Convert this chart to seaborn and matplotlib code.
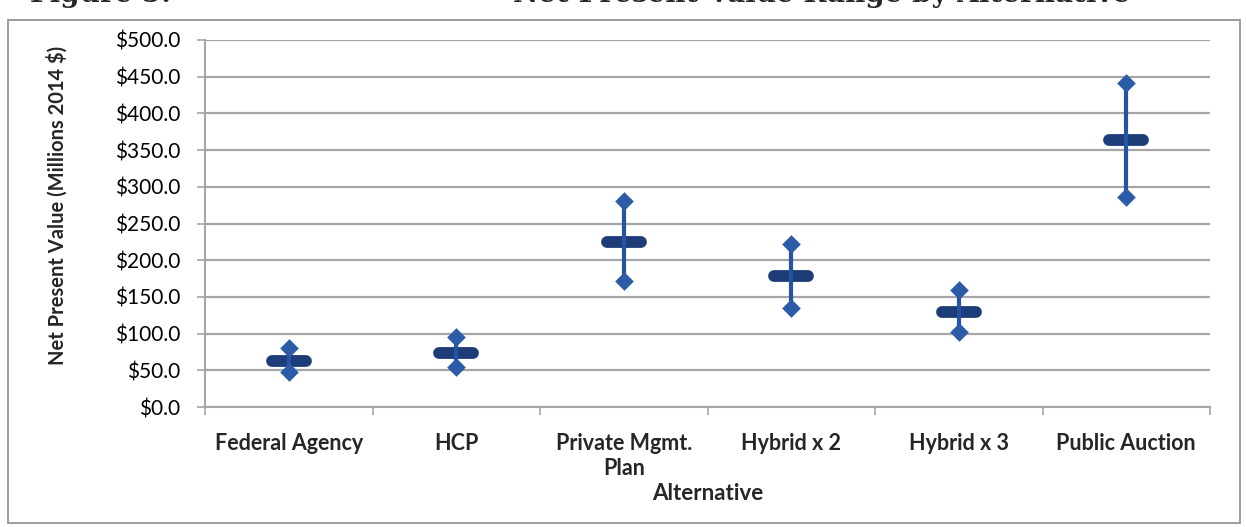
import matplotlib
matplotlib.use('Agg')
import matplotlib.pyplot as plt
import matplotlib.ticker as ticker
from matplotlib.patches import Rectangle
from matplotlib.markers import MarkerStyle
import pandas as pd
import seaborn as sns
import numpy as np

# values (millions 2014 $)
alternatives = ['Federal Agency', 'HCP', 'Private Mgmt.\nPlan',
                'Hybrid x 2', 'Hybrid x 3', 'Public Auction']
npv_low = [48, 55, 171, 135, 102, 286]
npv_mean = [63, 74, 225, 178, 129, 364]
npv_high = [80, 95, 280, 222, 160, 442]

W, H = 1246, 527

sns.set_theme(style='white')
plt.rcParams['font.family'] = ['Lato', 'DejaVu Sans']

fig = plt.figure(figsize=(W / 100, H / 100), dpi=100)
ax = fig.add_axes([205 / W, 1 - 407 / H, (1210 - 205) / W, (407 - 40) / H])

# low/mean/high rows -> median gives the mean, 100% interval gives low..high
range_df = pd.DataFrame({'alt': alternatives * 3,
                         'value': npv_low + npv_mean + npv_high})
ends_df = pd.DataFrame({'alt': alternatives * 2,
                        'value': npv_low + npv_high})

dash = MarkerStyle('_', capstyle='round')
sns.pointplot(data=range_df, x='alt', y='value', order=alternatives,
              estimator='median', errorbar=('pi', 100), capsize=0,
              linestyle='none', markers=dash, markersize=25, markeredgewidth=8.5,
              color='#1d3d78', err_kws={'color': '#2653a3', 'linewidth': 3, 'zorder': 6},
              ax=ax)
sns.stripplot(data=ends_df, x='alt', y='value', order=alternatives,
              jitter=False, marker='D', size=9.5, color='#2c5ba8', linewidth=0,
              zorder=7, ax=ax)

ax.set_xlim(-0.5, len(alternatives) - 0.5)
ax.set_ylim(0, 500)
ax.yaxis.set_major_locator(ticker.MultipleLocator(50))
ax.yaxis.set_major_formatter(ticker.FuncFormatter(lambda v, p: '${:.1f}'.format(v)))

grid_c = '#a6a6a6'
ax.yaxis.grid(True, color=grid_c, linewidth=1.6)
ax.xaxis.grid(False)
ax.set_axisbelow(True)
for s in ['top', 'right']:
    ax.spines[s].set_visible(False)
for s in ['left', 'bottom']:
    ax.spines[s].set_color(grid_c)
    ax.spines[s].set_linewidth(1.5)

ax.set_xticks(np.arange(-0.5, len(alternatives), 1), minor=True)
ax.tick_params(axis='y', left=True, length=6, width=1.2, color=grid_c,
               direction='out', pad=12, labelsize=15, labelcolor='black')
ax.tick_params(axis='x', which='major', bottom=True, length=0, pad=19,
               labelsize=15.5)
ax.tick_params(axis='x', which='minor', bottom=True, length=6, width=1.2,
               color=grid_c, direction='out')
for lbl in ax.get_xticklabels():
    lbl.set_fontweight('bold')
    lbl.set_linespacing(1.2)

ax.set_xlabel('Alternative', fontsize=16, fontweight='bold', labelpad=3)
ax.set_ylabel('Net Present Value (Millions 2014 $)', fontsize=14.5,
              fontweight='bold')
ax.yaxis.set_label_coords(-0.137, 0.55)

# chart box border like the Excel frame
fig.patches.append(Rectangle((8 / W, 1 - 523 / H), (1240 - 8) / W, (523 - 20) / H,
                             transform=fig.transFigure, fill=False,
                             edgecolor='#8c8c8c', linewidth=1.2))

# title of the source figure, cut off at the top edge of the scan
fig.text(30 / W, 1 - 2 / H, 'Figure 5.', fontsize=20, fontweight='bold',
         family='DejaVu Serif', va='baseline', ha='left')
fig.text(1130 / W, 1 - 2 / H, 'Net Present Value Range by Alternative', fontsize=20,
         fontweight='bold', family='DejaVu Serif', va='baseline', ha='right')

fig.savefig('out.png', dpi=100)
